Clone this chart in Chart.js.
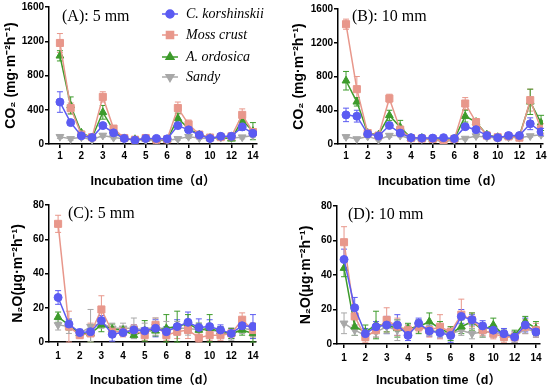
<!DOCTYPE html>
<html>
<head>
<meta charset="utf-8">
<script src="https://cdn.jsdelivr.net/npm/chart.js@4.4.1/dist/chart.umd.min.js"></script>
<style>
body { margin: 0; background: #fff; width: 550px; height: 390px; position: relative; overflow: hidden; }
.panel { position: absolute; }
.tag { position: absolute; font-family: "Liberation Serif", "Times New Roman", serif; font-size: 16px; line-height: 16px; color: #000; white-space: nowrap; }
</style>
</head>
<body>
<div class="panel" style="left:0;top:0;width:275px;height:195px"><canvas id="chartA"></canvas></div>
<div class="panel" style="left:290px;top:0;width:260px;height:195px"><canvas id="chartB"></canvas></div>
<div class="panel" style="left:0;top:195px;width:275px;height:195px"><canvas id="chartC"></canvas></div>
<div class="panel" style="left:290px;top:195px;width:260px;height:195px"><canvas id="chartD"></canvas></div>
<div class="tag" style="left:62px;top:8px">(A): 5 mm</div>
<div class="tag" style="left:352px;top:8px">(B): 10 mm</div>
<div class="tag" style="left:68px;top:205px">(C): 5 mm</div>
<div class="tag" style="left:348px;top:206px">(D): 10 mm</div>
<script>
// sampling days and the labelled ticks of the x axis
const days = [1, 1.5, 2, 2.5, 3, 3.5, 4, 4.5, 5, 5.5, 6, 7, 8, 9, 10, 11, 12, 13, 14];
const tickLabels = ['1', '2', '3', '4', '5', '6', '8', '10', '12', '14'];
const seriesNames = ['C. korshinskii', 'Moss crust', 'A. ordosica', 'Sandy'];

// (A) CO2, 5 mm
const co2_5_ck    = [490, 250, 95, 75, 215, 130, 65, 45, 65, 65, 60, 215, 165, 105, 65, 90, 90, 200, 125];
const co2_5_moss  = [1180, 420, 110, 80, 550, 180, 70, 50, 70, 50, 55, 420, 230, 110, 75, 80, 90, 340, 140];
const co2_5_ao    = [1030, 450, 130, 75, 370, 160, 65, 55, 60, 50, 50, 300, 180, 110, 70, 80, 60, 280, 150];
const co2_5_sandy = [85, 60, 80, 50, 100, 75, 60, 50, 45, 40, 40, 60, 85, 70, 60, 75, 70, 80, 100];
const co2_5_ck_err    = [120, 30, 20, 15, 25, 20, 10, 10, 10, 10, 10, 35, 25, 15, 10, 15, 15, 40, 30];
const co2_5_moss_err  = [110, 60, 20, 15, 60, 30, 10, 10, 15, 10, 10, 70, 50, 20, 15, 15, 15, 70, 30];
const co2_5_ao_err    = [60, 100, 20, 15, 80, 40, 10, 10, 10, 10, 10, 60, 40, 20, 10, 15, 15, 60, 100];
const co2_5_sandy_err = [20, 15, 15, 10, 20, 15, 10, 10, 10, 10, 10, 15, 20, 15, 10, 15, 15, 20, 20];

// (B) CO2, 10 mm
const co2_10_ck    = [345, 330, 120, 95, 220, 130, 75, 70, 70, 75, 65, 205, 170, 100, 75, 100, 100, 240, 145];
const co2_10_moss  = [1420, 650, 130, 100, 540, 170, 70, 65, 60, 30, 60, 480, 260, 100, 80, 90, 75, 520, 180];
const co2_10_ao    = [750, 500, 130, 110, 340, 200, 70, 70, 60, 60, 60, 330, 260, 110, 80, 90, 95, 500, 250];
const co2_10_sandy = [85, 60, 90, 50, 100, 100, 60, 60, 55, 25, 50, 65, 95, 80, 70, 80, 75, 95, 110];
const co2_10_ck_err    = [80, 70, 25, 20, 30, 25, 10, 10, 10, 10, 10, 30, 30, 20, 10, 20, 15, 70, 40];
const co2_10_moss_err  = [60, 150, 20, 15, 50, 30, 10, 10, 10, 10, 10, 70, 30, 20, 10, 15, 15, 130, 60];
const co2_10_ao_err    = [110, 50, 20, 20, 60, 80, 10, 10, 10, 10, 10, 70, 40, 30, 10, 15, 15, 150, 90];
const co2_10_sandy_err = [15, 10, 15, 10, 20, 15, 10, 10, 10, 10, 10, 15, 15, 15, 10, 15, 10, 15, 20];

// (C) N2O, 5 mm
const n2o_5_ck    = [26, 10.5, 5.5, 6, 12.5, 4.5, 5.5, 7, 6.5, 8, 6, 9, 11.5, 8.5, 9, 7, 5, 9.5, 9];
const n2o_5_moss  = [69, 9, 4, 5, 19, 6, 6, 7, 4, 10, 4, 6, 7, 2.5, 4, 4, 5, 13, 7];
const n2o_5_ao    = [14.5, 10, 5, 5, 10, 7.5, 7, 4, 6.5, 6.5, 8, 9, 11, 7, 8, 6, 5, 7, 5];
const n2o_5_sandy = [10, 9, 5, 9, 11, 8, 8, 8, 7, 9, 7, 8, 8, 7, 7, 6, 4, 8, 7];
const n2o_5_ck_err    = [4, 3, 2, 2, 3, 4, 2, 3, 2, 5, 3, 4, 6, 5, 4, 3, 3, 3, 7];
const n2o_5_moss_err  = [5, 9, 2, 6, 8, 3, 3, 3, 3, 4, 3, 4, 5, 3, 3, 3, 3, 4, 4];
const n2o_5_ao_err    = [3, 3, 2, 5, 4, 3, 2, 2, 6, 3, 8, 9, 5, 4, 8, 3, 3, 3, 5];
const n2o_5_sandy_err = [3, 4, 2, 10, 3, 3, 3, 6, 4, 5, 5, 4, 4, 4, 3, 3, 3, 3, 4];

// (D) N2O, 10 mm
const n2o_10_ck    = [49, 21, 6, 10, 11, 11, 5, 12, 7.5, 6.5, 5, 16, 14, 10.5, 8, 6, 4, 11, 7];
const n2o_10_moss  = [59, 16, 4, 8, 14, 10, 8, 10, 8, 10, 7, 17, 14, 8, 6, 4, 4, 10, 8];
const n2o_10_ao    = [44, 10, 7, 11, 11, 9, 9, 10, 13, 9, 6, 10, 13, 8, 11, 5, 5, 13, 9];
const n2o_10_sandy = [12, 8, 5, 7, 10, 8, 8, 11, 8, 7, 6, 8, 6, 7, 7, 5, 4, 9, 7];
const n2o_10_ck_err    = [6, 6, 3, 3, 5, 6, 3, 3, 3, 3, 4, 4, 3, 3, 3, 3, 3, 4, 3];
const n2o_10_moss_err  = [9, 5, 3, 4, 7, 5, 3, 3, 4, 7, 3, 9, 4, 3, 3, 3, 3, 4, 4];
const n2o_10_ao_err    = [5, 5, 4, 8, 4, 5, 3, 4, 5, 4, 4, 4, 5, 4, 4, 3, 3, 3, 4];
const n2o_10_sandy_err = [6, 3, 3, 3, 4, 6, 3, 3, 3, 3, 3, 3, 3, 3, 3, 3, 3, 3, 3];

const colors = ['#5b5bf2', '#e8978b', '#3d9b2b', '#a8a8a8'];
const styles = ['circle', 'rect', 'triangle', 'triangle'];
const rotations = [0, 0, 0, 180];
const radii = [4, 5, 4.5, 4.5];
const sansBold = { family: '"Liberation Sans", Arial, "Noto Sans CJK SC"', weight: 'bold' };

// vertical error bars with caps, under the lines
const errorBars = {
  id: 'errorBars',
  beforeDatasetsDraw(chart) {
    const ctx = chart.ctx;
    const y = chart.scales.y;
    ctx.save();
    ctx.lineWidth = 1;
    chart.data.datasets.forEach((ds, i) => {
      const meta = chart.getDatasetMeta(i);
      ctx.strokeStyle = ds.borderColor;
      meta.data.forEach((pt, j) => {
        const v = ds.data[j].y, e = ds.err[j];
        const top = y.getPixelForValue(v + e);
        const bot = y.getPixelForValue(Math.max(0, v - e));
        ctx.beginPath();
        ctx.moveTo(pt.x, top); ctx.lineTo(pt.x, bot);
        ctx.moveTo(pt.x - 3, top); ctx.lineTo(pt.x + 3, top);
        ctx.moveTo(pt.x - 3, bot); ctx.lineTo(pt.x + 3, bot);
        ctx.stroke();
      });
    });
    ctx.restore();
  }
};

// legend with line + marker, only used in panel A
const legendBox = {
  id: 'legendBox',
  afterDraw(chart, args, o) {
    if (!o.rows) return;
    const ctx = chart.ctx;
    ctx.save();
    chart.data.datasets.forEach((ds, i) => {
      const y = o.rows[i];
      ctx.strokeStyle = ds.borderColor;
      ctx.fillStyle = ds.backgroundColor;
      ctx.lineWidth = 1.5;
      ctx.beginPath(); ctx.moveTo(o.x0, y); ctx.lineTo(o.x1, y); ctx.stroke();
      Chart.helpers.drawPoint(ctx, { pointStyle: ds.pointStyle, rotation: ds.pointRotation, radius: ds.pointRadius, borderWidth: 1 }, (o.x0 + o.x1) / 2, y);
      ctx.fillStyle = '#000';
      ctx.font = 'italic 14px "Liberation Serif", "Times New Roman", serif';
      ctx.textBaseline = 'middle';
      ctx.fillText(ds.label, o.tx, y);
    });
    ctx.restore();
  }
};

function makeChart(id, vals, errs, opt) {
  const datasets = vals.map((v, s) => ({
    label: seriesNames[s],
    data: v.map((y, i) => ({ x: i / 2, y: y })),  // days sit on evenly spaced half-slots
    err: errs[s],
    borderColor: colors[s],
    backgroundColor: colors[s],
    borderWidth: 1.5,
    pointStyle: styles[s],
    pointRotation: rotations[s],
    pointRadius: radii[s],
    pointBorderWidth: 1,
    tension: 0
  }));

  return new Chart(document.getElementById(id), {
    type: 'line',
    data: { datasets },
    options: {
      responsive: true,
      maintainAspectRatio: false,
      animation: false,
      layout: { padding: { left: 0, top: opt.top, right: opt.right, bottom: 0 } },
      plugins: {
        legend: { display: false },
        tooltip: { enabled: false },
        legendBox: opt.legend || false
      },
      scales: {
        x: {
          type: 'linear',
          min: opt.xMin,
          max: opt.xMax,
          afterBuildTicks: s => { s.ticks = tickLabels.map((_, i) => ({ value: i })); },
          afterFit: s => { s.height = opt.xh; },
          ticks: {
            callback: v => tickLabels[v],
            autoSkip: false, maxRotation: 0,
            color: '#000', padding: opt.xtp,
            font: { ...sansBold, size: 10 }
          },
          grid: { drawOnChartArea: false, color: '#000', tickLength: 4, lineWidth: 1.5 },
          border: { color: '#000', width: 1.5 },
          title: {
            display: true, text: 'Incubation time（d）', color: '#000',
            font: { ...sansBold, size: 12.5 }, padding: { top: 0, bottom: opt.xTitlePad }
          }
        },
        y: {
          min: 0,
          max: opt.yMax,
          afterFit: s => { s.width = opt.yw; },
          ticks: { stepSize: opt.yStep, callback: v => String(v), color: '#000', padding: 1, font: { ...sansBold, size: 10 } },
          grid: { drawOnChartArea: false, color: '#000', tickLength: 4, lineWidth: 1.5 },
          border: { color: '#000', width: 1.5 },
          title: {
            display: true, text: opt.yTitle, color: '#000',
            font: { ...sansBold, size: 14 }, padding: { top: opt.yTitlePad, bottom: 0 }
          }
        }
      }
    },
    plugins: [errorBars, legendBox]
  });
}

const co2Title = 'CO₂ (mg·m⁻²h⁻¹)';
const n2oTitle = 'N₂O(μg·m⁻²h⁻¹)';

makeChart('chartA',
  [co2_5_ck, co2_5_moss, co2_5_ao, co2_5_sandy],
  [co2_5_ck_err, co2_5_moss_err, co2_5_ao_err, co2_5_sandy_err],
  { top: 7, right: 18, yw: 49, xh: 51, xMin: -0.51, xMax: 9.19, xtp: 2, xTitlePad: 6,
    yMax: 1600, yStep: 400, yTitle: co2Title, yTitlePad: 3,
    legend: { x0: 162, x1: 178, tx: 186, rows: [14, 35, 57, 77] } });

makeChart('chartB',
  [co2_10_ck, co2_10_moss, co2_10_ao, co2_10_sandy],
  [co2_10_ck_err, co2_10_moss_err, co2_10_ao_err, co2_10_sandy_err],
  { top: 9, right: 7, yw: 48, xh: 51, xMin: -0.37, xMax: 9.09, xtp: 2, xTitlePad: 6,
    yMax: 1600, yStep: 400, yTitle: co2Title, yTitlePad: 1 });

makeChart('chartC',
  [n2o_5_ck, n2o_5_moss, n2o_5_ao, n2o_5_sandy],
  [n2o_5_ck_err, n2o_5_moss_err, n2o_5_ao_err, n2o_5_sandy_err],
  { top: 10, right: 19, yw: 49, xh: 48, xMin: -0.42, xMax: 9.14, xtp: 4, xTitlePad: 2,
    yMax: 80, yStep: 20, yTitle: n2oTitle, yTitlePad: 10 });

makeChart('chartD',
  [n2o_10_ck, n2o_10_moss, n2o_10_ao, n2o_10_sandy],
  [n2o_10_ck_err, n2o_10_moss_err, n2o_10_ao_err, n2o_10_sandy_err],
  { top: 11, right: 10, yw: 47, xh: 46, xMin: -0.33, xMax: 9.19, xtp: 4, xTitlePad: 2,
    yMax: 80, yStep: 20, yTitle: n2oTitle, yTitlePad: 8 });
</script>
</body>
</html>
